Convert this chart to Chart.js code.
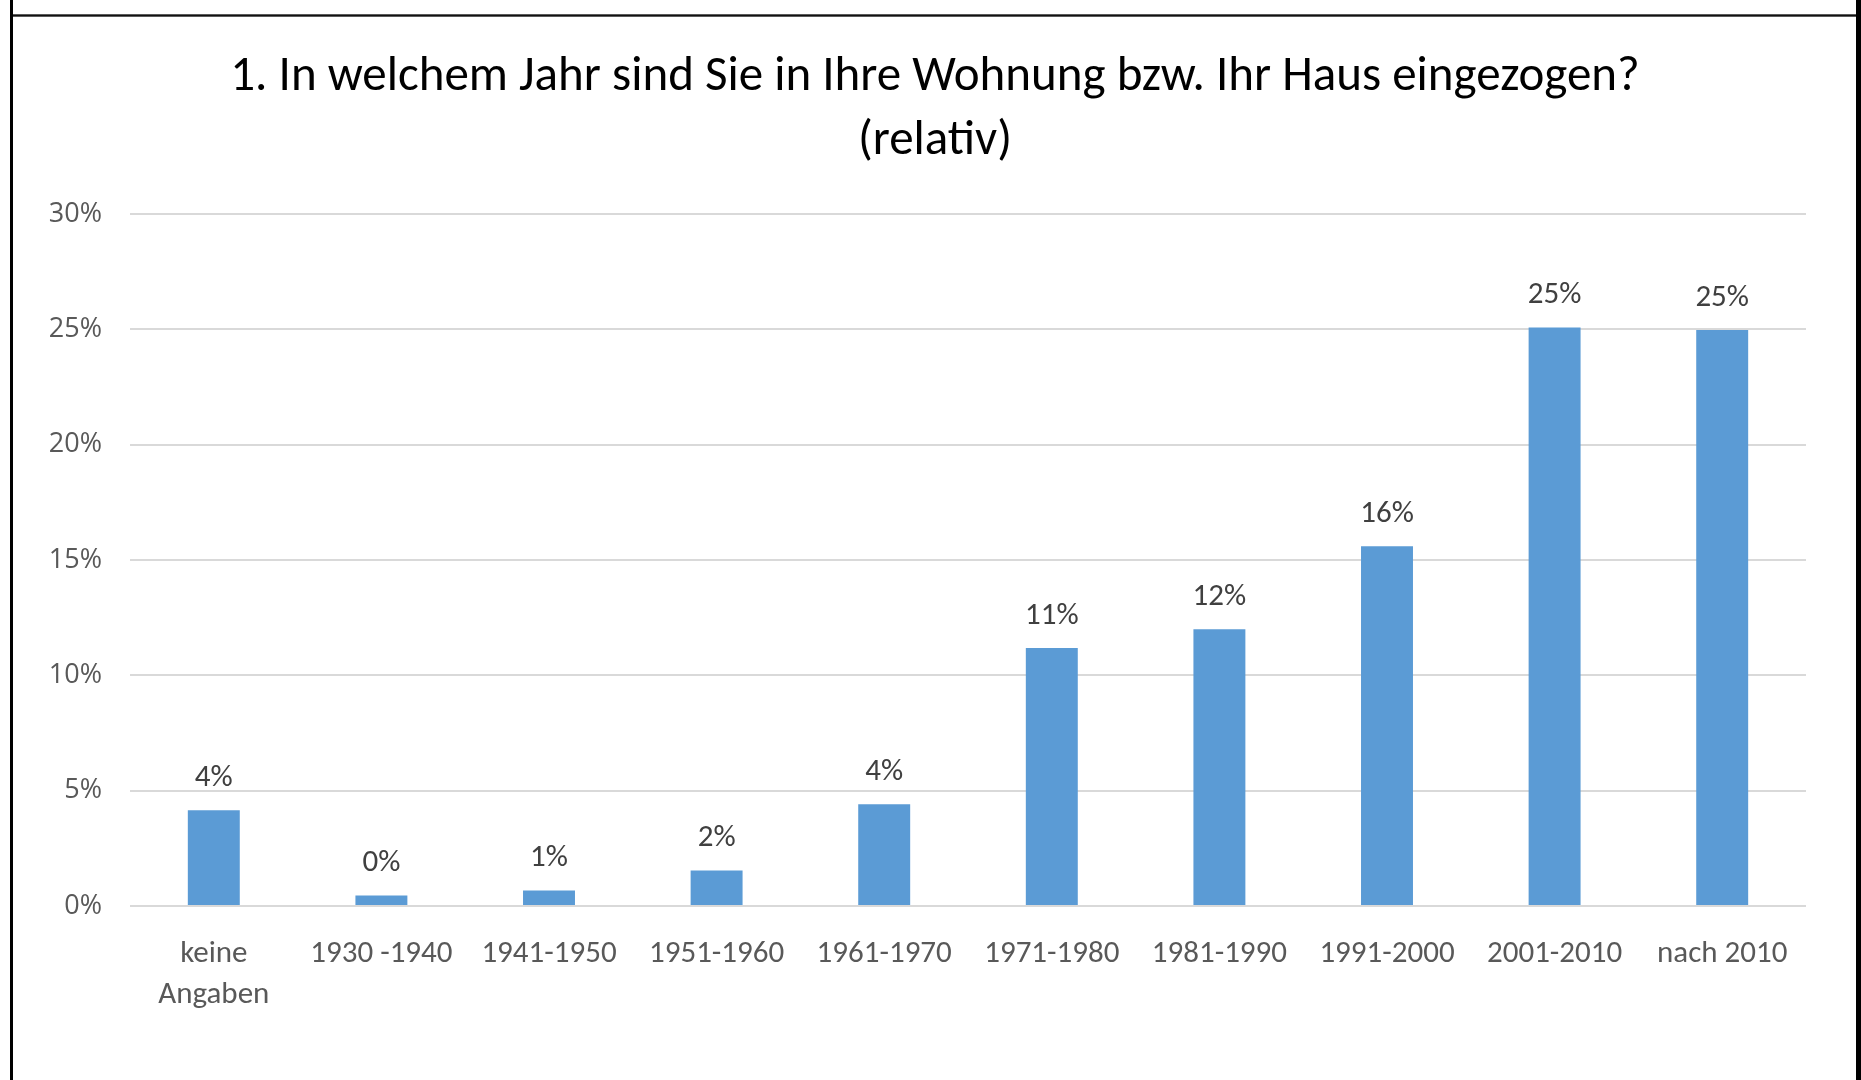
<!DOCTYPE html>
<html>
<head>
<meta charset="utf-8">
<script src="https://cdn.jsdelivr.net/npm/chart.js@4.4.1/dist/chart.umd.min.js"></script>
<style>
  html, body { margin: 0; padding: 0; background: #ffffff; }
  #wrap { position: relative; width: 1861px; height: 1080px; }
  canvas { display: block; }
</style>
</head>
<body>
<div id="wrap"><canvas id="c" width="1861" height="1080"></canvas></div>
<script>
const titleLines = ["1. In welchem Jahr sind Sie in Ihre Wohnung bzw. Ihr Haus eingezogen?", "(relativ)"];
const categories = [["keine", "Angaben"], "1930 -1940", "1941-1950", "1951-1960", "1961-1970", "1971-1980", "1981-1990", "1991-2000", "2001-2010", "nach 2010"];
const shares = [4.15, 0.46, 0.67, 1.54, 4.41, 11.18, 12.0, 15.6, 25.08, 24.97];
const yTicks = [0, 5, 10, 15, 20, 25, 30];

const frame = {
  id: 'frame',
  beforeDraw(chart) {
    const ctx = chart.ctx;
    ctx.save();
    ctx.fillStyle = '#ffffff';
    ctx.fillRect(0, 0, chart.width, chart.height);
    ctx.fillStyle = '#5a5a5a';
    ctx.fillRect(11, 14, 1846, 3);
    ctx.fillStyle = '#111111';
    ctx.fillRect(11, 15, 1846, 1);
    ctx.fillStyle = '#000000';
    ctx.fillRect(10, 0, 3, chart.height);
    ctx.fillRect(1856, 0, 5, chart.height);
    ctx.restore();
  }
};

const centerTitle = {
  id: 'centerTitle',
  afterLayout(chart) {
    if (chart.titleBlock) {
      chart.titleBlock.left = 10;
      chart.titleBlock.right = 1860;
    }
  }
};

const barLabels = {
  id: 'barLabels',
  afterDatasetsDraw(chart) {
    const ctx = chart.ctx;
    const meta = chart.getDatasetMeta(0);
    ctx.save();
    ctx.font = '31px Carlito, Lato, sans-serif';
    ctx.fillStyle = '#404040';
    ctx.textAlign = 'center';
    ctx.textBaseline = 'middle';
    meta.data.forEach((bar, i) => {
      ctx.fillText(Math.round(shares[i]) + '%', bar.x, bar.y - 32);
    });
    ctx.restore();
  }
};

new Chart(document.getElementById('c'), {
  type: 'bar',
  data: {
    labels: categories,
    datasets: [{
      data: shares,
      backgroundColor: '#5b9bd5',
      borderWidth: 0,
      categoryPercentage: 1,
      barPercentage: 0.31
    }]
  },
  options: {
    responsive: false,
    animation: false,
    devicePixelRatio: 1,
    layout: { padding: { left: 20, right: 55, top: 0, bottom: 0 } },
    plugins: {
      legend: { display: false },
      tooltip: { enabled: false },
      title: {
        display: true,
        text: titleLines,
        color: '#000000',
        font: { family: 'Carlito, Lato, sans-serif', size: 49, weight: 'normal', lineHeight: 1.306 },
        padding: { top: 46, bottom: 40 }
      }
    },
    scales: {
      x: {
        grid: { display: false, drawTicks: false },
        border: { display: false },
        ticks: {
          color: '#595959',
          font: { family: 'Carlito, Lato, sans-serif', size: 31, lineHeight: 1.34 },
          padding: 27,
          maxRotation: 0,
          autoSkip: false
        },
        afterFit(scale) { scale.height = 1080 - 906; }
      },
      y: {
        min: 0,
        max: 30,
        afterBuildTicks(scale) { scale.ticks = yTicks.map(v => ({ value: v })); },
        grid: { color: '#d9d9d9', lineWidth: 2, drawTicks: false },
        border: { display: false },
        ticks: {
          color: '#595959',
          font: { family: 'Open Sans, sans-serif', size: 27 },
          padding: 28,
          callback: v => v + '%'
        },
        afterFit(scale) { scale.width = 110; }
      }
    }
  },
  plugins: [frame, centerTitle, barLabels]
});
</script>
</body>
</html>
